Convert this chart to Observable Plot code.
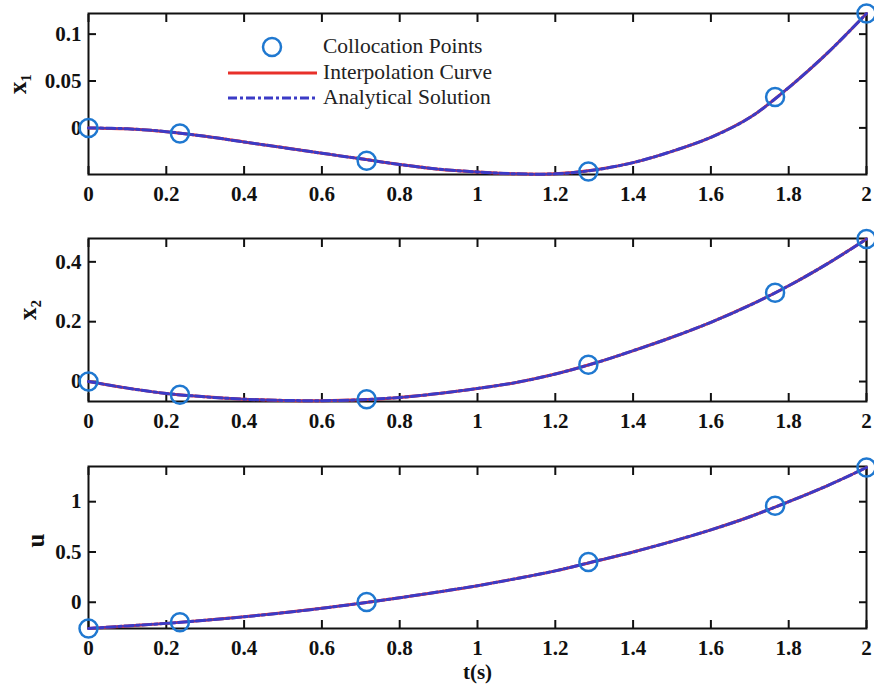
<!DOCTYPE html>
<html><head><meta charset="utf-8">
<script src="https://cdn.jsdelivr.net/npm/d3@7"></script>
<script src="https://cdn.jsdelivr.net/npm/@observablehq/plot@0.6"></script>
<style>
body{margin:0;background:#fff;}
#wrap{position:relative;width:874px;height:692px;overflow:hidden;background:#fff;}
#wrap > svg{position:absolute;left:0;}
.lt{position:absolute;font-family:"Liberation Serif",serif;font-size:21.5px;line-height:22px;color:#222;white-space:nowrap;}
</style></head><body><div id="wrap"></div>
<script>
// ---- data ----
const xTicks = [0, 0.2, 0.4, 0.6, 0.8, 1, 1.2, 1.4, 1.6, 1.8, 2];
const tCurve = [0, 0.1, 0.2, 0.3, 0.4, 0.5, 0.6, 0.7, 0.8, 0.9, 1.0, 1.1, 1.2, 1.3, 1.4, 1.5, 1.6, 1.7, 1.8, 1.9, 2.0];
const x1Curve = [0, -0.001, -0.004, -0.009, -0.015, -0.021, -0.027, -0.033, -0.039, -0.044, -0.047, -0.049, -0.049, -0.045, -0.037, -0.025, -0.010, 0.011, 0.043, 0.080, 0.122];
const x2Curve = [0, -0.022, -0.040, -0.051, -0.059, -0.063, -0.064, -0.061, -0.053, -0.040, -0.023, -0.003, 0.025, 0.061, 0.103, 0.148, 0.198, 0.255, 0.320, 0.394, 0.476];
const uCurve  = [-0.26, -0.235, -0.21, -0.18, -0.145, -0.105, -0.06, -0.01, 0.045, 0.103, 0.165, 0.235, 0.312, 0.405, 0.50, 0.605, 0.72, 0.85, 1.0, 1.16, 1.34];
const tPts  = [0, 0.235, 0.715, 1.285, 1.765, 2];
const x1Pts = [0, -0.006, -0.035, -0.0465, 0.033, 0.122];
const x2Pts = [0, -0.044, -0.059, 0.056, 0.297, 0.476];
const uPts  = [-0.26, -0.199, 0.003, 0.40, 0.96, 1.34];
const x1Ticks = [0, 0.05, 0.1];
const x2Ticks = [0, 0.2, 0.4];
const uTicks = [0, 0.5, 1];
const legendLabels = ["Collocation Points", "Interpolation Curve", "Analytical Solution"];

const RED = "#e8302a", BLUE = "#3b3bc6", CIRC = "#1f78d0";
const fmt = d => String(+d.toFixed(3));
const wrap = document.getElementById("wrap");

function panel({top, height, mt, mb, yDomain, yTicks, curve, pts, label, labelDx, extra = []}) {
  const data = tCurve.map((t, i) => ({t, v: curve[i]}));
  const pdata = tPts.map((t, i) => ({t, v: pts[i]}));
  const svg = Plot.plot({
    width: 874, height,
    marginLeft: 88, marginRight: 8, marginTop: mt, marginBottom: mb,
    style: {fontFamily: "'Liberation Serif', serif", fontWeight: "bold", fontSize: "21px", color: "#111", background: "transparent", overflow: "visible"},
    x: {domain: [0, 2]},
    y: {domain: yDomain},
    marks: [
      Plot.axisX(xTicks, {tickSize: -8, tickPadding: 20, strokeWidth: 2, tickFormat: fmt, label: null}),
      Plot.axisX(xTicks, {anchor: "top", tickSize: -8, strokeWidth: 2, tickFormat: () => "", label: null}),
      Plot.axisY(yTicks, {tickSize: -8, tickPadding: 15, strokeWidth: 2, tickFormat: fmt, label: null}),
      Plot.axisY(yTicks, {anchor: "right", tickSize: -8, strokeWidth: 2, tickFormat: () => "", label: null}),
      Plot.frame({stroke: "#111", strokeWidth: 2}),
      Plot.line(data, {x: "t", y: "v", stroke: RED, strokeWidth: 3, curve: "catmull-rom"}),
      Plot.line(data, {x: "t", y: "v", stroke: BLUE, strokeWidth: 3, strokeDasharray: "9,3,3,3", curve: "catmull-rom"}),
      Plot.dot(pdata, {x: "t", y: "v", r: 9, stroke: CIRC, strokeWidth: 2.5, fill: "none"}),
      Plot.text([label], {text: d => d, frameAnchor: "left", dx: labelDx, rotate: -90, fontSize: 25, fontWeight: "bold", fill: "#111"}),
      ...extra
    ]
  });
  svg.style.top = top + "px";
  wrap.appendChild(svg);
}

panel({top: 0, height: 215, mt: 13, mb: 41, yDomain: [-0.0497, 0.122], yTicks: x1Ticks, curve: x1Curve, pts: x1Pts, label: "x₁", labelDx: -71});
panel({top: 215, height: 225, mt: 23, mb: 39, yDomain: [-0.0667, 0.478], yTicks: x2Ticks, curve: x2Curve, pts: x2Pts, label: "x₂", labelDx: -61});
panel({top: 440, height: 252, mt: 26, mb: 64, yDomain: [-0.261, 1.35], yTicks: uTicks, curve: uCurve, pts: uPts, label: "u", labelDx: -53,
  extra: [Plot.text(["t(s)"], {text: d => d, frameAnchor: "bottom", dy: 50, fontSize: 21, fontWeight: "bold", fill: "#111"})]});

// ---- legend (inside top panel) ----
const ns = "http://www.w3.org/2000/svg";
const lg = document.createElementNS(ns, "svg");
lg.setAttribute("width", 874); lg.setAttribute("height", 120);
lg.style.top = "0px";
lg.innerHTML = `<circle cx="272" cy="47" r="9" fill="none" stroke="${CIRC}" stroke-width="2.5"/>
<line x1="228" y1="73" x2="317" y2="73" stroke="${RED}" stroke-width="3"/>
<line x1="228" y1="98" x2="317" y2="98" stroke="${BLUE}" stroke-width="3" stroke-dasharray="9,3,3,3"/>`;
wrap.appendChild(lg);
[47, 73, 98].forEach((cy, i) => {
  const s = document.createElement("div");
  s.className = "lt";
  s.style.left = "323px";
  s.style.top = (cy - 12) + "px";
  s.textContent = legendLabels[i];
  wrap.appendChild(s);
});
</script>
</body></html>
